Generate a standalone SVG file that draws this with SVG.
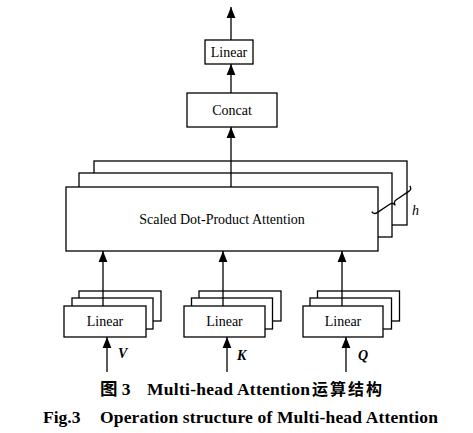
<svg xmlns="http://www.w3.org/2000/svg" width="473" height="433" viewBox="0 0 473 433">
<defs>
<marker id="ah" markerUnits="userSpaceOnUse" markerWidth="11" markerHeight="10" viewBox="0 0 11 10" refX="11" refY="5" orient="auto">
<path d="M11,5 L0,0.6 L0,9.4 Z" fill="#000"/>
</marker>
<style>
.box{fill:#fff;stroke:#000;stroke-width:1.3}
.lbl{font-family:"Liberation Serif","Times New Roman",serif;font-size:14px;fill:#000;text-anchor:middle}
.io{font-family:"Liberation Serif","Times New Roman",serif;font-size:14px;font-weight:bold;font-style:italic;fill:#000}
.cap{font-family:"Liberation Serif","Times New Roman","Noto Sans CJK SC",serif;font-size:17.5px;font-weight:bold;fill:#000}
.con{stroke:#000;stroke-width:1.3;fill:none}
</style>
</defs>
<rect width="473" height="433" fill="#fff"/>

<g id="linear-out">
<rect class="box" x="205" y="40" width="48" height="24"/>
<text class="lbl" x="229" y="57">Linear</text>
</g>
<g id="concat">
<rect class="box" x="187" y="93" width="90" height="34"/>
<text class="lbl" x="232" y="115">Concat</text>
</g>
<g id="attention">
<rect class="box" x="94" y="161" width="313" height="64"/>
<rect class="box" x="79" y="173" width="313" height="64"/>
<rect class="box" x="66" y="187" width="312" height="64"/>
<text class="lbl" x="222" y="224">Scaled Dot-Product Attention</text>
</g>
<g id="linear-v">
<rect class="box" x="79" y="291" width="82" height="30"/>
<rect class="box" x="72" y="298" width="81" height="31"/>
<rect class="box" x="64" y="306" width="82" height="31"/>
<text class="lbl" x="105" y="326">Linear</text>
</g>
<g id="linear-k">
<rect class="box" x="199" y="291" width="82" height="30"/>
<rect class="box" x="191.5" y="298" width="81" height="31"/>
<rect class="box" x="184" y="306" width="81" height="31"/>
<text class="lbl" x="224.5" y="326">Linear</text>
</g>
<g id="linear-q">
<rect class="box" x="317.5" y="291" width="82" height="30"/>
<rect class="box" x="310" y="298" width="81.5" height="31"/>
<rect class="box" x="303" y="306" width="80" height="31"/>
<text class="lbl" x="343" y="326">Linear</text>
</g>

<g id="connectors">
<line class="con" x1="231" y1="40" x2="231" y2="7" marker-end="url(#ah)"/>
<line class="con" x1="231" y1="93" x2="231" y2="64" marker-end="url(#ah)"/>
<line class="con" x1="231" y1="187" x2="231" y2="127" marker-end="url(#ah)"/>
<line class="con" x1="103" y1="306" x2="103" y2="251" marker-end="url(#ah)"/>
<line class="con" x1="223" y1="306" x2="223" y2="251" marker-end="url(#ah)"/>
<line class="con" x1="342" y1="306" x2="342" y2="251" marker-end="url(#ah)"/>
<line class="con" x1="107" y1="372" x2="107" y2="337" marker-end="url(#ah)"/>
<line class="con" x1="227" y1="372" x2="227" y2="337" marker-end="url(#ah)"/>
<line class="con" x1="346" y1="372" x2="346" y2="337" marker-end="url(#ah)"/>
</g>

<g id="brace">
<path class="con" stroke-width="1.1" transform="translate(393,202) rotate(-34)" d="M-23,-4 Q-23,0 -19,0 L-4,0 Q0,0 0,4 Q0,0 4,0 L19,0 Q23,0 23,-4"/>
<text class="io" style="font-weight:normal" x="412" y="215">h</text>
</g>

<g id="inputs">
<text class="io" x="118" y="358">V</text>
<text class="io" x="237" y="360">K</text>
<text class="io" x="358" y="360">Q</text>
</g>

<g id="caption">
<text class="cap" x="100" y="395">图 3</text>
<text class="cap" x="147" y="395" textLength="163" lengthAdjust="spacing">Multi-head Attention</text>
<text class="cap" x="312" y="395" textLength="70" lengthAdjust="spacing" style="font-family:'Noto Sans CJK SC',sans-serif;font-size:16px">运算结构</text>
<text class="cap" x="43" y="423">Fig.3</text>
<text class="cap" x="100" y="423" textLength="338" lengthAdjust="spacing">Operation structure of Multi-head Attention</text>
</g>
</svg>
